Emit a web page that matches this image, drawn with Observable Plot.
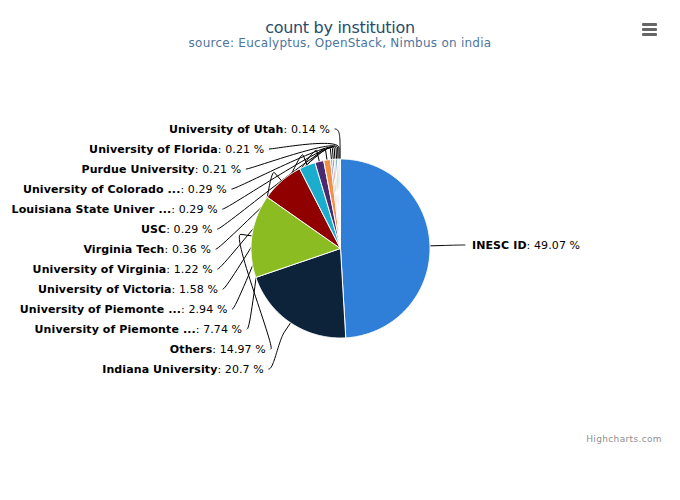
<!DOCTYPE html>
<html>
<head>
<meta charset="utf-8">
<script src="https://cdn.jsdelivr.net/npm/d3@7"></script>
<script src="https://cdn.jsdelivr.net/npm/@observablehq/plot@0.6"></script>
<style>
  html, body { margin: 0; padding: 0; background: #fff; }
  #wrap { position: relative; width: 680px; height: 500px; overflow: hidden; font-family: "DejaVu Sans", sans-serif; }
  #head { position: relative; width: 680px; height: 55px; }
  .title { position: absolute; left: 0; width: 680px; text-align: center; white-space: nowrap; }
  #t1 { top: 18px; font-size: 16px; line-height: 20px; color: #274b6d; letter-spacing: -0.3px; }
  #t2 { top: 35px; font-size: 12px; line-height: 16px; color: #4d759e; letter-spacing: 0.25px; }
  #menu { position: absolute; left: 642px; top: 23px; width: 15px; }
  #menu div { height: 3px; background: #666; margin-bottom: 2px; border-radius: 1px; }
  #credit { position: absolute; right: 18px; top: 434px; font-size: 9px; line-height: 11px; color: #909090; letter-spacing: 0.35px; }
</style>
</head>
<body>
<div id="wrap">
  <div id="head">
    <div class="title" id="t1">count by institution</div>
    <div class="title" id="t2">source: Eucalyptus, OpenStack, Nimbus on india</div>
    <div id="menu"><div></div><div></div><div></div></div>
  </div>
  <div id="chart"></div>
  <div id="credit">Highcharts.com</div>
</div>
<script>
const names = [
  "INESC ID", "Indiana University", "Others", "University of Piemonte ...",
  "University of Piemonte ...", "University of Victoria", "University of Virginia",
  "Virginia Tech", "USC", "Louisiana State Univer ...", "University of Colorado ...",
  "Purdue University", "University of Florida", "University of Utah"
];
const values = [49.07, 20.7, 14.97, 7.74, 2.94, 1.58, 1.22, 0.36, 0.29, 0.29, 0.29, 0.21, 0.21, 0.14];
const palette = ["#2f7ed8", "#0d233a", "#8bbc21", "#910000", "#1aadce", "#492970", "#f28f43", "#77a1e5", "#c42525", "#a6c96a"];

// layout (page pixel coordinates)
const cx = 340, cy = 248, r = 89.5, dist = 30, R = r + dist, slotH = 20, connOff = 11;
const svgTop = 55, W = 680, H = 445;
const ls = 0.1; // label letter spacing

const keys = names.map((n, i) => i);
const colors = keys.map(i => palette[i % palette.length]);
const arcs = d3.pie().sort(null).value(i => values[i])(keys);

// slice polygons
const slicePts = [];
for (const a of arcs) {
  const k = a.data;
  slicePts.push({k, x: cx, y: cy});
  const n = Math.max(2, Math.ceil((a.endAngle - a.startAngle) / 0.01));
  for (let j = 0; j <= n; j++) {
    const t = a.startAngle + (a.endAngle - a.startAngle) * j / n;
    slicePts.push({k, x: cx + r * Math.sin(t), y: cy - r * Math.cos(t)});
  }
  slicePts.push({k, x: cx, y: cy});
}

// label positions (Highcharts-like)
const info = arcs.map(a => {
  const mid = (a.startAngle + a.endAngle) / 2;
  const ux = Math.sin(mid), uy = -Math.cos(mid);
  return {k: a.data, ux, uy, left: ux < 0, naturalY: cy + R * uy,
    bx: cx + r * ux, by: cy + r * uy, b2x: cx + (r + connOff) * ux, b2y: cy + (r + connOff) * uy};
});
const getX = (y, left) => cx + (left ? -1 : 1) * Math.sqrt(Math.max(0, R * R - (y - cy) * (y - cy)));
const leftSide = info.filter(d => d.left).sort((a, b) => a.naturalY - b.naturalY);
leftSide.forEach((d, s) => {
  const slotY = cy - R + slotH * s;
  d.y = slotY;
  d.X = getX((s === 0 || s === leftSide.length - 1) ? d.naturalY : slotY, true);
});
info.filter(d => !d.left).forEach(d => { d.y = d.naturalY; d.X = getX(d.y, false); });

// measure text
const ctx = document.createElement("canvas").getContext("2d");
const measure = (s, bold) => { ctx.font = (bold ? "bold " : "") + "11px 'DejaVu Sans'"; return ctx.measureText(s).width + ls * s.length; };

const nameLabels = [], valueLabels = [];
for (const d of info) {
  const vs = ": " + values[d.k] + " %";
  if (d.left) {
    const xe = d.X - 10;
    valueLabels.push({x: xe, y: d.y, text: vs, anchor: "end"});
    nameLabels.push({x: xe - measure(vs, false), y: d.y, text: names[d.k], anchor: "end"});
  } else {
    const xs = d.X + 12;
    nameLabels.push({x: xs, y: d.y, text: names[d.k], anchor: "start"});
    valueLabels.push({x: xs + measure(names[d.k], true), y: d.y, text: vs, anchor: "start"});
  }
}

// connectors: soft (cubic) connector
const connPts = [];
for (const d of info) {
  const p0 = [d.X + (d.left ? -5 : 5), d.y], c1 = [d.X, d.y];
  const c2 = [2 * d.b2x - d.bx, 2 * d.b2y - d.by], p3 = [d.b2x, d.b2y];
  const n = 30;
  for (let j = 0; j <= n; j++) {
    const t = j / n, u = 1 - t;
    const x = u*u*u*p0[0] + 3*u*u*t*c1[0] + 3*u*t*t*c2[0] + t*t*t*p3[0];
    const y = u*u*u*p0[1] + 3*u*u*t*c1[1] + 3*u*t*t*c2[1] + t*t*t*p3[1];
    connPts.push({k: d.k, x, y});
  }
  connPts.push({k: d.k, x: d.bx, y: d.by});
}

const chart = Plot.plot({
  width: W, height: H, margin: 0,
  style: {fontFamily: "DejaVu Sans", fontSize: "11px", background: "white", overflow: "visible", letterSpacing: ls + "px"},
  x: {domain: [0, W], range: [0, W], axis: null},
  y: {domain: [svgTop, svgTop + H], range: [0, H], axis: null},
  color: {domain: keys, range: colors},
  marks: [
    Plot.line(connPts, {x: "x", y: "y", z: "k", stroke: "#000", strokeWidth: 1, curve: "linear"}),
    Plot.line(slicePts, {x: "x", y: "y", z: "k", fill: "k", stroke: "#fff", strokeWidth: 1, strokeLinejoin: "round", curve: "linear"}),
    Plot.text(nameLabels.filter(d => d.anchor === "end"), {x: "x", y: "y", text: "text", textAnchor: "end", fontWeight: "bold", fontSize: 11, fill: "#000"}),
    Plot.text(nameLabels.filter(d => d.anchor === "start"), {x: "x", y: "y", text: "text", textAnchor: "start", fontWeight: "bold", fontSize: 11, fill: "#000"}),
    Plot.text(valueLabels.filter(d => d.anchor === "end"), {x: "x", y: "y", text: "text", textAnchor: "end", fontSize: 11, fill: "#000"}),
    Plot.text(valueLabels.filter(d => d.anchor === "start"), {x: "x", y: "y", text: "text", textAnchor: "start", fontSize: 11, fill: "#000"})
  ]
});
document.getElementById("chart").appendChild(chart);
</script>
</body>
</html>
